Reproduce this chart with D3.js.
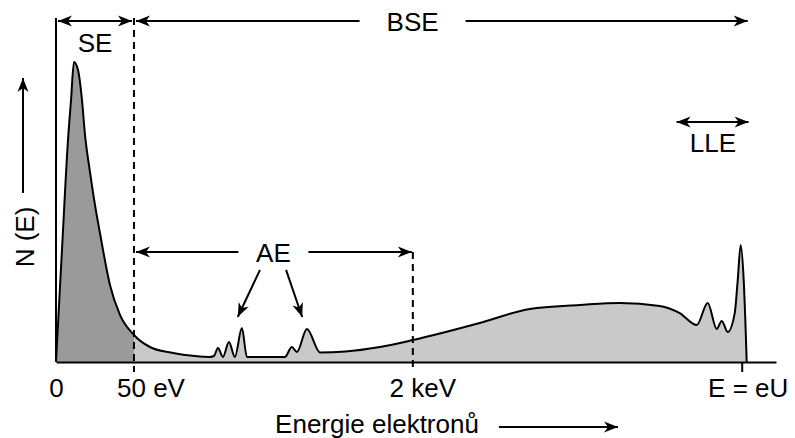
<!DOCTYPE html>
<html>
<head>
<meta charset="utf-8">
<script src="https://cdn.jsdelivr.net/npm/d3@7"></script>
<style>
  body { margin: 0; background: #fff; }
  svg text { font-family: "Liberation Sans", Arial, sans-serif; fill: #000; }
</style>
</head>
<body>
<svg id="chart" width="795" height="438"></svg>
<script>
// energy position (arbitrary units, E = eU at 100) and N(E) (peak of SE = 100)
const energyPos = [0, 0.87, 1.75, 2.19, 2.62, 3.21, 3.79, 4.23, 4.96, 5.69, 6.41, 7.87, 9.33,
  11.37, 13.7, 17.06, 20.26, 22.45, 23.03, 23.62, 24.34, 25.22, 26.09, 27.11, 27.84,
  33.38, 34.4, 35.13, 36.59, 38.5, 42.2, 47.23, 52.04, 61.81, 69.1, 76.38,
  82.22, 88.05, 90.96, 93.44, 95.04, 96.36, 97.08, 97.96, 98.98, 99.42, 99.85, 100.29, 100.73];
const counts = [0, 37.3, 74, 87.3, 100, 97.3, 87.3, 75.7, 63.3, 52.3, 43, 25.7, 15.7,
  9, 5, 3, 2, 1.7, 2, 4.7, 1.7, 6.7, 1.7, 11.3, 1.7,
  1.7, 5, 3.3, 11, 3.2, 3.5, 5, 7.3, 13, 17.7, 19,
  19.7, 18.7, 16.3, 12.3, 19.7, 11, 13.7, 10, 16.3, 27.3, 39, 27.3, 0];

const tickPos = [0, 11.37, 52.04, 100];
const tickLabels = ["0", "50 eV", "2 keV", "E = eU"];

const SE_END = tickPos[1];   // 50 eV
const AE_END = tickPos[2];   // 2 keV
const E_MAX = tickPos[3];    // E = eU

(function () {
  const svg = d3.select("#chart");
  const FS = 26;

  const x = d3.scaleLinear().domain([0, 105]).range([56, 776]);
  const y = d3.scaleLinear().domain([0, 100]).range([362, 62]);
  const Y_TOP = 114.7;

  const data = energyPos.map((e, i) => ({ e, n: counts[i] }));

  // arrowhead
  const defs = svg.append("defs");
  defs.append("marker")
      .attr("id", "head")
      .attr("viewBox", "-15 -6 16 12")
      .attr("refX", 0).attr("refY", 0)
      .attr("markerWidth", 16).attr("markerHeight", 12)
      .attr("markerUnits", "userSpaceOnUse")
      .attr("orient", "auto-start-reverse")
    .append("path")
      .attr("d", "M0,0 L-14,-5.5 L-10,0 L-14,5.5 Z")
      .attr("fill", "#000");

  defs.append("clipPath").attr("id", "clipSE")
    .append("rect")
      .attr("x", x(0)).attr("y", 0)
      .attr("width", x(SE_END) - x(0)).attr("height", 438);

  // ----- areas -----
  const area = d3.area().x(d => x(d.e)).y0(y(0)).y1(d => y(d.n)).curve(d3.curveMonotoneX);
  const line = d3.line().x(d => x(d.e)).y(d => y(d.n)).curve(d3.curveMonotoneX);

  svg.append("path").attr("d", area(data)).attr("fill", "#c9c9c9");
  svg.append("path").attr("d", area(data)).attr("fill", "#9a9a9a").attr("clip-path", "url(#clipSE)");
  svg.append("path").attr("d", line(data))
      .attr("fill", "none").attr("stroke", "#000").attr("stroke-width", 2)
      .attr("stroke-linejoin", "round");

  // ----- axes -----
  const xAxis = d3.axisBottom(x)
      .tickValues(tickPos)
      .tickFormat((d, i) => tickLabels[i])
      .tickSizeInner(10).tickSizeOuter(0).tickPadding(7);

  const gx = svg.append("g").attr("transform", `translate(0,${y(0)})`).call(xAxis);
  gx.select(".domain").attr("stroke", "#000").attr("stroke-width", 2);
  gx.selectAll(".tick line")
      .attr("stroke", "#000").attr("stroke-width", 2)
      .attr("display", (d, i) => i === tickPos.length - 1 ? null : "none");
  gx.selectAll(".tick text")
      .attr("font-size", FS).attr("font-family", null)
      .attr("dx", (d, i) => [0, 16.5, 9.5, 6][i]);

  svg.append("line")
      .attr("x1", x(0)).attr("x2", x(0))
      .attr("y1", y(0)).attr("y2", y(Y_TOP))
      .attr("stroke", "#000").attr("stroke-width", 2);

  // dashed boundaries
  const dash = (e, top) => svg.append("line")
      .attr("x1", x(e)).attr("x2", x(e))
      .attr("y1", y(top)).attr("y2", y(0) + 10)
      .attr("stroke", "#000").attr("stroke-width", 2)
      .attr("stroke-dasharray", "7,5");
  dash(SE_END, Y_TOP);
  dash(AE_END, 36.7);

  // ----- arrows -----
  function arrow(x1, y1, x2, y2, start, end) {
    svg.append("line")
        .attr("x1", x1).attr("y1", y1).attr("x2", x2).attr("y2", y2)
        .attr("stroke", "#000").attr("stroke-width", 2)
        .attr("marker-start", start ? "url(#head)" : null)
        .attr("marker-end", end ? "url(#head)" : null);
  }
  function label(txt, cx, by, rot) {
    const t = svg.append("text")
        .attr("font-size", FS).attr("text-anchor", "middle")
        .text(txt);
    if (rot) t.attr("transform", `translate(${cx},${by}) rotate(-90)`);
    else t.attr("x", cx).attr("y", by);
  }

  const yTopArrow = y(113.7);
  // SE
  arrow(x(0) + 2, yTopArrow, x(SE_END) - 2, yTopArrow, true, true);
  label("SE", (x(0) + x(SE_END)) / 2, 52);
  // BSE
  const bseMid = x(52);
  arrow(x(SE_END) + 2, yTopArrow, bseMid - 53, yTopArrow, true, false);
  arrow(bseMid + 53, yTopArrow, x(E_MAX) + 6, yTopArrow, false, true);
  label("BSE", bseMid, 31);
  // AE
  const yAE = y(36.7);
  const aeMid = (x(SE_END) + x(AE_END)) / 2;
  arrow(x(SE_END) + 2, yAE, aeMid - 35, yAE, true, false);
  arrow(aeMid + 35, yAE, x(AE_END) - 1, yAE, false, true);
  label("AE", aeMid, 262);
  arrow(x(29.75), y(30.7), x(26.5), y(15), false, true);
  arrow(x(33.55), y(30.7), x(35.9), y(15), false, true);
  // LLE
  arrow(x(90.5), y(80), x(101), y(80), true, true);
  label("LLE", x(95.8), 152);

  // axis titles
  label("N (E)", 34, 237, true);
  arrow(23, y(56.3), 23, y(94.7), false, true);
  label("Energie elektronů", 377, 433);
  arrow(499, 427, 618, 427, false, true);
})();
</script>
</body>
</html>
